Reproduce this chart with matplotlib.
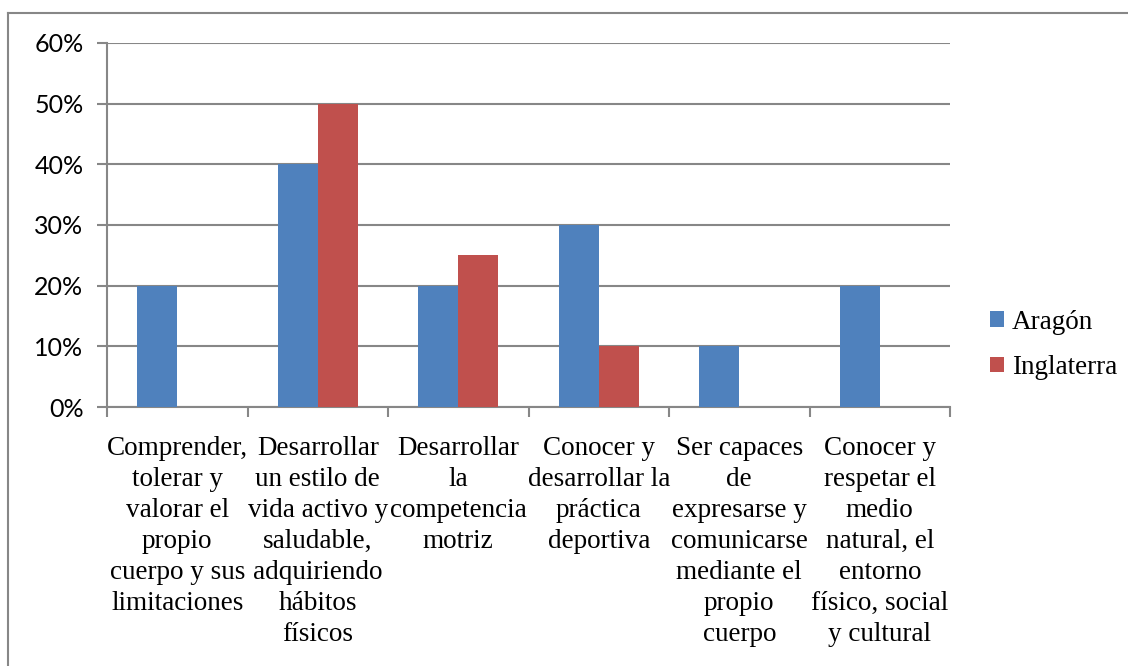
import matplotlib.pyplot as plt
import numpy as np
from matplotlib.lines import Line2D

categories = [
    "Comprender,\ntolerar y\nvalorar el\npropio\ncuerpo y sus\nlimitaciones",
    "Desarrollar\nun estilo de\nvida activo y\nsaludable,\nadquiriendo\nhábitos\nfísicos",
    "Desarrollar\nla\ncompetencia\nmotriz",
    "Conocer y\ndesarrollar la\npráctica\ndeportiva",
    "Ser capaces\nde\nexpresarse y\ncomunicarse\nmediante el\npropio\ncuerpo",
    "Conocer y\nrespetar el\nmedio\nnatural, el\nentorno\nfísico, social\ny cultural",
]
aragon = [0.20, 0.40, 0.20, 0.30, 0.10, 0.20]
inglaterra = [0.0, 0.50, 0.25, 0.10, 0.0, 0.0]
yticks = [0.0, 0.1, 0.2, 0.3, 0.4, 0.5, 0.6]

grey = "#878787"
serif = ["Liberation Serif", "DejaVu Serif"]

fig = plt.figure(figsize=(11.28, 6.66), dpi=100)
ax = fig.add_axes([107 / 1128, 1 - 407 / 666, 843 / 1128, 364 / 666])

x = np.arange(len(categories))
w = 1 / 3.5
ax.bar(x - w / 2, aragon, w, color="#4F81BD", label="Aragón", zorder=3)
ax.bar(x + w / 2, inglaterra, w, color="#C0504D", label="Inglaterra", zorder=3)

ax.set_xlim(-0.5, len(categories) - 0.5)
ax.set_ylim(0, 0.6)
ax.set_yticks(yticks)
ax.set_yticklabels([f"{int(round(v * 100))}%" for v in yticks],
                   fontfamily="Lato", fontsize=18)
ax.yaxis.grid(True, color=grey, linewidth=1.5, zorder=0)
ax.set_axisbelow(True)

# category labels between boundary ticks
ax.set_xticks(np.arange(len(categories) + 1) - 0.5)
ax.set_xticklabels([])
ax.set_xticks(x, minor=True)
ax.set_xticklabels(categories, minor=True, fontfamily=serif, fontsize=19.5,
                   linespacing=1.31, va="top", ha="center")
ax.tick_params(axis="x", which="minor", length=0, pad=21)
ax.tick_params(axis="x", which="major", length=7, width=1.5, color=grey)
ax.tick_params(axis="y", length=7, width=1.5, color=grey, pad=10)

for s in ["top", "right"]:
    ax.spines[s].set_visible(False)
for s in ["left", "bottom"]:
    ax.spines[s].set_color(grey)
    ax.spines[s].set_linewidth(1.5)

leg = fig.legend(loc="center left", bbox_to_anchor=(990 / 1128, 1 - 345 / 666),
                 frameon=False, prop={"family": serif, "size": 19.5},
                 handlelength=0.52, handleheight=0.52, handletextpad=0.3,
                 labelspacing=0.75, borderpad=0, borderaxespad=0)

# outer chart border (left and top only visible)
fig.add_artist(Line2D([7.5 / 1128, 7.5 / 1128], [0, 1 - 13 / 666],
                      transform=fig.transFigure, color=grey, lw=1.5))
fig.add_artist(Line2D([7.5 / 1128, 1], [1 - 13 / 666, 1 - 13 / 666],
                      transform=fig.transFigure, color=grey, lw=1.5))

fig.savefig("out.png", dpi=100)
